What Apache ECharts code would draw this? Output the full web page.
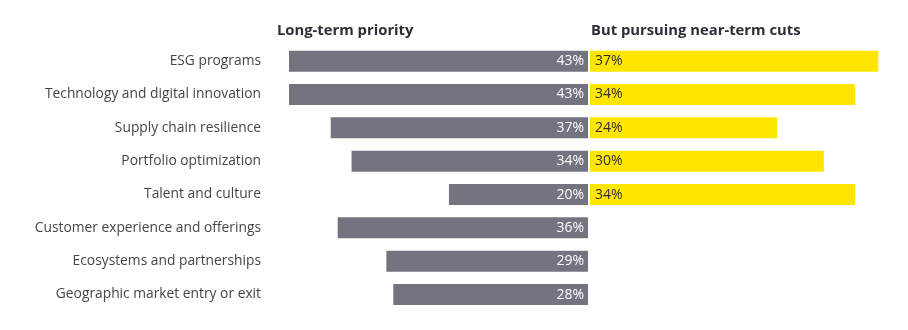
<!DOCTYPE html>
<html><head><meta charset="utf-8">
<script src="https://cdn.jsdelivr.net/npm/echarts@6/dist/echarts.min.js"></script>
<style>html,body{margin:0;padding:0;background:#fff}#c{width:908px;height:330px}</style>
</head><body><div id="c"></div>
<script>
const categories = ["ESG programs","Technology and digital innovation","Supply chain resilience","Portfolio optimization","Talent and culture","Customer experience and offerings","Ecosystems and partnerships","Geographic market entry or exit"];
const longTerm = [43,43,37,34,20,36,29,28];
const nearTerm = [37,34,24,30,34,null,null,null];
const titleLeft = "Long-term priority";
const titleRight = "But pursuing near-term cuts";

const FONT = "Open Sans";
const chart = echarts.init(document.getElementById('c'), null, {renderer:'canvas'});
chart.setOption({
  animation:false,
  textStyle:{fontFamily:FONT},
  title:[
    {text:titleLeft,left:272,top:18,textStyle:{fontFamily:FONT,fontSize:14.8,fontWeight:'bold',color:'#2e2e38'}},
    {text:titleRight,left:586,top:18,textStyle:{fontFamily:FONT,fontSize:14.8,fontWeight:'bold',color:'#2e2e38'}}
  ],
  grid:[
    {left:289,width:299,top:44.5,height:266.7},
    {left:590,width:288.3,top:44.5,height:266.7}
  ],
  xAxis:[
    {gridIndex:0,type:'value',min:0,max:43,inverse:true,show:false},
    {gridIndex:1,type:'value',min:0,max:37,show:false}
  ],
  yAxis:[
    {gridIndex:0,type:'category',data:categories,inverse:true,axisLine:{show:false},axisTick:{show:false},
     axisLabel:{margin:28,fontSize:13.8,color:'#44444e',fontFamily:FONT}},
    {gridIndex:1,type:'category',data:categories,inverse:true,show:false}
  ],
  series:[
    {type:'bar',xAxisIndex:0,yAxisIndex:0,data:longTerm,barWidth:21,
     itemStyle:{color:'#747480'},
     label:{show:true,position:'insideRight',distance:4,formatter:'{c}%',color:'#ffffff',fontSize:14,fontFamily:FONT}},
    {type:'bar',xAxisIndex:1,yAxisIndex:1,data:nearTerm,barWidth:21,
     itemStyle:{color:'#ffe600'},
     label:{show:true,position:'insideLeft',distance:5,formatter:'{c}%',color:'#2e2e38',fontSize:14,fontFamily:FONT}}
  ]
});
</script></body></html>
